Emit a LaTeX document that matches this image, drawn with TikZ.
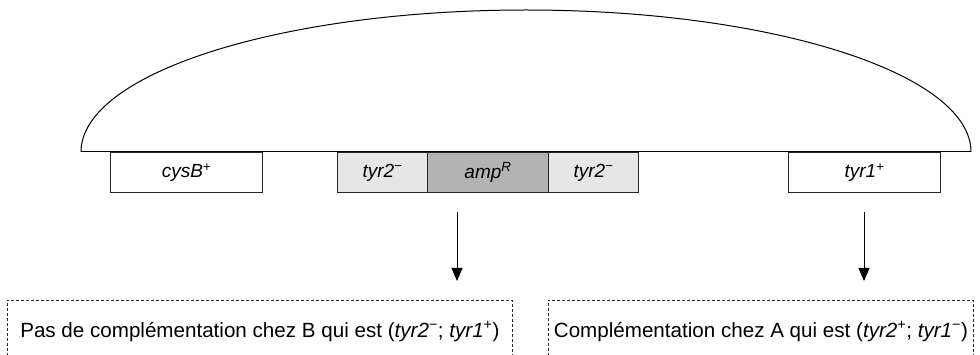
\documentclass[tikz,border=0pt]{standalone}
\usepackage{fontspec}
\setmainfont{Liberation Sans}
\usetikzlibrary{arrows.meta}
\definecolor{lightgene}{HTML}{E6E6E6}
\definecolor{darkgene}{HTML}{B3B3B3}
\begin{document}
\begin{tikzpicture}[x=1pt,y=-1pt,
  gene/.style={draw=black!85, line width=1pt, minimum height=40pt, inner sep=0pt,
    anchor=north west, font=\fontsize{19}{21}\selectfont\itshape},
  note/.style={draw=black!85, dash pattern=on 3pt off 2pt, line width=0.8pt,
    minimum height=62pt, inner sep=0pt, anchor=north west,
    font=\fontsize{20.6}{23}\selectfont},
  arr/.style={-{Triangle[width=11pt,length=13pt]}, line width=1pt, black}]
\useasboundingbox (0,0) rectangle (980,355);
\clip (0,0) rectangle (980,355);
% plasmid arc
\coordinate (arcL) at (81,152);
\coordinate (arcR) at (971,152);
\draw[line width=1pt] (arcL) arc[start angle=180, end angle=0, x radius=445pt, y radius=142pt];
\draw[line width=1pt] (arcL) -- (arcR);
% genes
\node[gene, fill=white, minimum width=152pt] (cys) at (110,152) {cysB\textsuperscript{+}};
\node[gene, fill=lightgene, minimum width=90pt] (tyrA) at (337,152) {tyr2\textsuperscript{−}};
\node[gene, fill=darkgene, minimum width=121pt] (amp) at (427,152) {amp\textsuperscript{R}};
\node[gene, fill=lightgene, minimum width=90pt] (tyrB) at (548,152) {tyr2\textsuperscript{−}};
\node[gene, fill=white, minimum width=152pt] (tyr1) at (788,152) {tyr1\textsuperscript{+}};
% notes
\node[note, minimum width=505pt] (noteB) at (7,300)
  {Pas de complémentation chez B qui est (\textit{tyr2}\textsuperscript{−}; \textit{tyr1}\textsuperscript{+})};
\node[note, minimum width=425pt] (noteA) at (548,300)
  {Complémentation chez A qui est (\textit{tyr2}\textsuperscript{+}; \textit{tyr1}\textsuperscript{−})};
% arrows
\coordinate (a1s) at (457,212);
\coordinate (a1e) at (457,281);
\coordinate (a2s) at (864,212);
\coordinate (a2e) at (864,281);
\draw[arr] (a1s) -- (a1e);
\draw[arr] (a2s) -- (a2e);
\end{tikzpicture}
\end{document}
